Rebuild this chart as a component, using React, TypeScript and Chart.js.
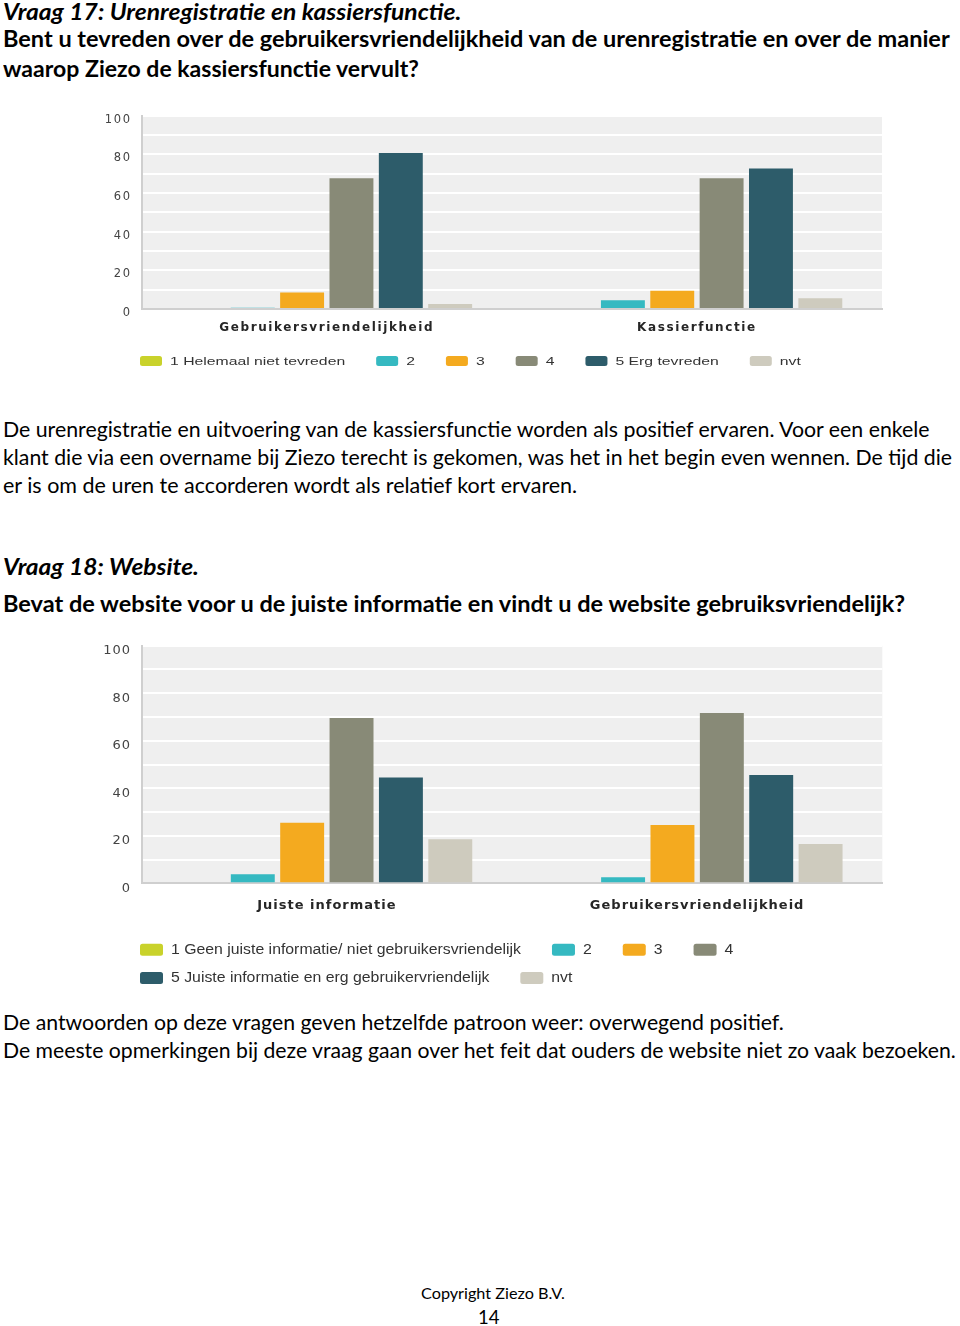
import React, { useEffect, useLayoutEffect, useRef } from 'react';
import { Chart, registerables } from 'chart.js';

Chart.register(...registerables);

// ---------------- Vraag 17 data ----------------
const Q17_CATEGORIES = ['Gebruikersvriendelijkheid', 'Kassierfunctie'];
const Q17_SERIES_NAMES = ['1 Helemaal niet tevreden', '2', '3', '4', '5 Erg tevreden', 'nvt'];
const Q17_SCORE_1 = [0, 0.5];
const Q17_SCORE_2 = [0.6, 4.5];
const Q17_SCORE_3 = [8.5, 9.5];
const Q17_SCORE_4 = [67.7, 67.7];
const Q17_SCORE_5 = [80.7, 72.7];
const Q17_NVT = [2.6, 5.6];

// ---------------- Vraag 18 data ----------------
const Q18_CATEGORIES = ['Juiste informatie', 'Gebruikersvriendelijkheid'];
const Q18_SERIES_NAMES = [
  '1 Geen juiste informatie/ niet gebruikersvriendelijk',
  '2',
  '3',
  '4',
  '5 Juiste informatie en erg gebruikervriendelijk',
  'nvt',
];
const Q18_SCORE_1 = [0, 0];
const Q18_SCORE_2 = [3.8, 2.5];
const Q18_SCORE_3 = [25.5, 24.5];
const Q18_SCORE_4 = [69.6, 71.7];
const Q18_SCORE_5 = [44.5, 45.6];
const Q18_NVT = [18.5, 16.5];

// ---------------- axis values ----------------
const Y_MIN = 0;
const Y_MAX = 100;
const Y_GRID_STEP = 10;
const Y_LABEL_STEP = 20;

// ---------------- styles ----------------
const SERIES_COLORS = ['#c9d22b', '#35b9c1', '#f4aa1f', '#888a77', '#2d5c6a', '#cecbbe'];
const PLOT_BG = '#efefef';
const AXIS_GREY = '#cfcfcf';
const AXIS_FONT = '"DejaVu Sans", Verdana, sans-serif';
const LEGEND_FONT = '"Liberation Sans", Arial, Helvetica, sans-serif';
const BODY_FONT = 'Lato, "Noto Sans", sans-serif';

const plotBackground = {
  id: 'plotBackground',
  beforeDraw(chart: any, _args: any, opts: any) {
    const { ctx, chartArea: a } = chart;
    ctx.save();
    ctx.fillStyle = opts.color || PLOT_BG;
    ctx.fillRect(a.left, a.top, a.right - a.left, a.bottom - a.top);
    ctx.restore();
    ctx.letterSpacing = (opts.spacing || 0) + 'px';
  },
};

const boxLegend = {
  id: 'boxLegend',
  afterDraw(chart: any, _args: any, o: any) {
    const ctx = chart.ctx;
    ctx.save();
    ctx.letterSpacing = '0px';
    ctx.font = `${o.fontSize}px ${LEGEND_FONT}`;
    ctx.textBaseline = 'middle';
    ctx.textAlign = 'left';
    let x = o.x;
    let row = 0;
    chart.data.datasets.forEach((ds: any) => {
      const tw = ctx.measureText(ds.label).width * o.scaleX;
      const w = o.boxW + o.textGap + tw;
      if (x > o.x && x + w > o.maxX) {
        row += 1;
        x = o.x;
      }
      const cy = o.y + row * o.rowGap;
      ctx.fillStyle = ds.backgroundColor;
      ctx.beginPath();
      ctx.roundRect(x, cy - o.boxH / 2, o.boxW, o.boxH, 2.5);
      ctx.fill();
      ctx.save();
      ctx.translate(x + o.boxW + o.textGap, cy + 0.5);
      ctx.scale(o.scaleX, 1);
      ctx.fillStyle = o.color;
      ctx.fillText(ds.label, 0, 0);
      ctx.restore();
      x += w + o.itemGap;
    });
    ctx.restore();
  },
};

type ChartLayout = {
  left: number;
  top: number;
  width: number;
  height: number;
  plotLeft: number;
  plotTop: number;
  plotRight: number;
  plotBottom: number;
  xAxisHeight: number;
  xLabelPad: number;
  yLabelPad: number;
  yLabelOffset: number;
  tickSize: number;
  catSize: number;
  spacing: number;
  legend: any;
};

function BarChart(props: {
  categories: string[];
  names: string[];
  series: number[][];
  layout: ChartLayout;
}) {
  const ref = useRef<HTMLCanvasElement>(null);
  const { categories, names, series, layout: L } = props;

  useEffect(() => {
    const canvas = ref.current;
    if (!canvas) return;
    const chart = new Chart(canvas, {
      type: 'bar',
      data: {
        labels: categories,
        datasets: series.map((d, i) => ({
          label: names[i],
          data: d,
          backgroundColor: SERIES_COLORS[i],
          borderWidth: 0,
          categoryPercentage: 0.8,
          barPercentage: 0.89,
        })),
      },
      options: {
        responsive: false,
        animation: false,
        events: [],
        layout: {
          padding: {
            left: 0,
            top: L.plotTop,
            right: L.width - L.plotRight,
            bottom: L.height - L.plotBottom - L.xAxisHeight,
          },
        },
        plugins: {
          legend: { display: false },
          tooltip: { enabled: false },
          title: { display: false },
          plotBackground: { color: PLOT_BG, spacing: L.spacing },
          boxLegend: { ...L.legend, color: '#333333' },
        } as any,
        scales: {
          x: {
            grid: { display: false, drawTicks: false },
            border: { display: true, color: AXIS_GREY, width: 2 },
            ticks: {
              autoSkip: false,
              maxRotation: 0,
              color: '#262626',
              padding: L.xLabelPad,
              font: { family: AXIS_FONT, size: L.catSize, weight: 'bold' },
            },
            afterFit: (s: any) => {
              s.height = L.xAxisHeight;
              s.paddingLeft = 0;
              s.paddingRight = 0;
            },
          },
          y: {
            min: Y_MIN,
            max: Y_MAX,
            grid: {
              drawTicks: false,
              lineWidth: 2,
              color: (c: any) => (c.tick && c.tick.value === Y_MIN ? AXIS_GREY : '#ffffff'),
            },
            border: { display: true, color: AXIS_GREY, width: 2 },
            ticks: {
              stepSize: Y_GRID_STEP,
              autoSkip: false,
              color: '#444444',
              padding: L.yLabelPad,
              labelOffset: L.yLabelOffset,
              font: { family: AXIS_FONT, size: L.tickSize },
              callback: (v: any) => (Number(v) % Y_LABEL_STEP === 0 ? String(v) : ''),
            },
            afterFit: (s: any) => {
              s.width = L.plotLeft;
              s.paddingTop = 0;
              s.paddingBottom = 0;
            },
          },
        },
      } as any,
      plugins: [plotBackground, boxLegend],
    });
    return () => chart.destroy();
  }, []);

  return (
    <canvas
      ref={ref}
      width={L.width}
      height={L.height}
      style={{ position: 'absolute', left: L.left, top: L.top, width: L.width, height: L.height }}
    />
  );
}

const ASC = 0.987;
const LH = 1.2;

function TextLine(props: {
  text: string;
  x: number;
  right: number;
  baseline: number;
  size: number;
  bold?: boolean;
  italic?: boolean;
}) {
  const { text, x, right, baseline, size, bold, italic } = props;
  const ref = useRef<HTMLSpanElement>(null);
  useLayoutEffect(() => {
    const el = ref.current;
    if (!el) return;
    el.style.transform = 'none';
    const w = el.offsetWidth;
    if (w > 0) el.style.transform = `scaleX(${(right - x) / w})`;
  });
  return (
    <span
      ref={ref}
      style={{
        position: 'absolute',
        left: x,
        top: baseline - ASC * size,
        fontFamily: BODY_FONT,
        fontSize: size,
        lineHeight: `${LH * size}px`,
        fontWeight: bold ? 700 : 400,
        fontStyle: italic ? 'italic' : 'normal',
        whiteSpace: 'nowrap',
        transformOrigin: '0 0',
        color: '#000',
      }}
    >
      {text}
    </span>
  );
}

const TEXT_LINES = [
  { text: 'Vraag 17: Urenregistratie en kassiersfunctie.', x: 3, right: 462, baseline: 21, size: 23, bold: true, italic: true },
  { text: 'Bent u tevreden over de gebruikersvriendelijkheid van de urenregistratie en over de manier', x: 3, right: 950, baseline: 48, size: 23, bold: true },
  { text: 'waarop Ziezo de kassiersfunctie vervult?', x: 3, right: 419, baseline: 78, size: 23, bold: true },
  { text: 'De urenregistratie en uitvoering van de kassiersfunctie worden als positief ervaren. Voor een enkele', x: 3, right: 930, baseline: 437, size: 21 },
  { text: 'klant die via een overname bij Ziezo terecht is gekomen, was het in het begin even wennen. De tijd die', x: 3, right: 952, baseline: 465, size: 21 },
  { text: 'er is om de uren te accorderen wordt als relatief kort ervaren.', x: 3, right: 577, baseline: 493, size: 21 },
  { text: 'Vraag 18: Website.', x: 3, right: 199, baseline: 576, size: 23, bold: true, italic: true },
  { text: 'Bevat de website voor u de juiste informatie en vindt u de website gebruiksvriendelijk?', x: 3, right: 905, baseline: 613, size: 23, bold: true },
  { text: 'De antwoorden op deze vragen geven hetzelfde patroon weer: overwegend positief.', x: 3, right: 784, baseline: 1030, size: 21 },
  { text: 'De meeste opmerkingen bij deze vraag gaan over het feit dat ouders de website niet zo vaak bezoeken.', x: 3, right: 956, baseline: 1058, size: 21 },
  { text: 'Copyright Ziezo B.V.', x: 421, right: 565, baseline: 1299, size: 16 },
  { text: '14', x: 478, right: 499, baseline: 1324, size: 18.5 },
];

const LAYOUT_17: ChartLayout = {
  left: 90,
  top: 105,
  width: 810,
  height: 275,
  plotLeft: 51.7,
  plotTop: 10.7,
  plotRight: 792,
  plotBottom: 204,
  xAxisHeight: 40,
  xLabelPad: 11.5,
  yLabelPad: 10.1,
  yLabelOffset: 4,
  tickSize: 11.5,
  catSize: 12,
  spacing: 1.6,
  legend: { x: 50, y: 256, rowGap: 28, maxX: 800, boxW: 22, boxH: 10, textGap: 8, itemGap: 31, fontSize: 11.5, scaleX: 1.37 },
};

const LAYOUT_18: ChartLayout = {
  left: 90,
  top: 635,
  width: 810,
  height: 360,
  plotLeft: 51.7,
  plotTop: 10.7,
  plotRight: 792.3,
  plotBottom: 248.3,
  xAxisHeight: 40,
  xLabelPad: 14.3,
  yLabelPad: 10.7,
  yLabelOffset: 5,
  tickSize: 13,
  catSize: 13,
  spacing: 1,
  legend: { x: 50, y: 314.7, rowGap: 28.3, maxX: 800, boxW: 23, boxH: 12, textGap: 8, itemGap: 31, fontSize: 14, scaleX: 1.13 },
};

export default function App() {
  return (
    <div
      style={{
        position: 'absolute',
        left: 0,
        top: 0,
        width: 960,
        height: 1326,
        overflow: 'hidden',
        background: '#ffffff',
      }}
    >
      {TEXT_LINES.map((l, i) => (
        <TextLine key={i} {...l} />
      ))}
      <BarChart
        categories={Q17_CATEGORIES}
        names={Q17_SERIES_NAMES}
        series={[Q17_SCORE_1, Q17_SCORE_2, Q17_SCORE_3, Q17_SCORE_4, Q17_SCORE_5, Q17_NVT]}
        layout={LAYOUT_17}
      />
      <BarChart
        categories={Q18_CATEGORIES}
        names={Q18_SERIES_NAMES}
        series={[Q18_SCORE_1, Q18_SCORE_2, Q18_SCORE_3, Q18_SCORE_4, Q18_SCORE_5, Q18_NVT]}
        layout={LAYOUT_18}
      />
    </div>
  );
}
